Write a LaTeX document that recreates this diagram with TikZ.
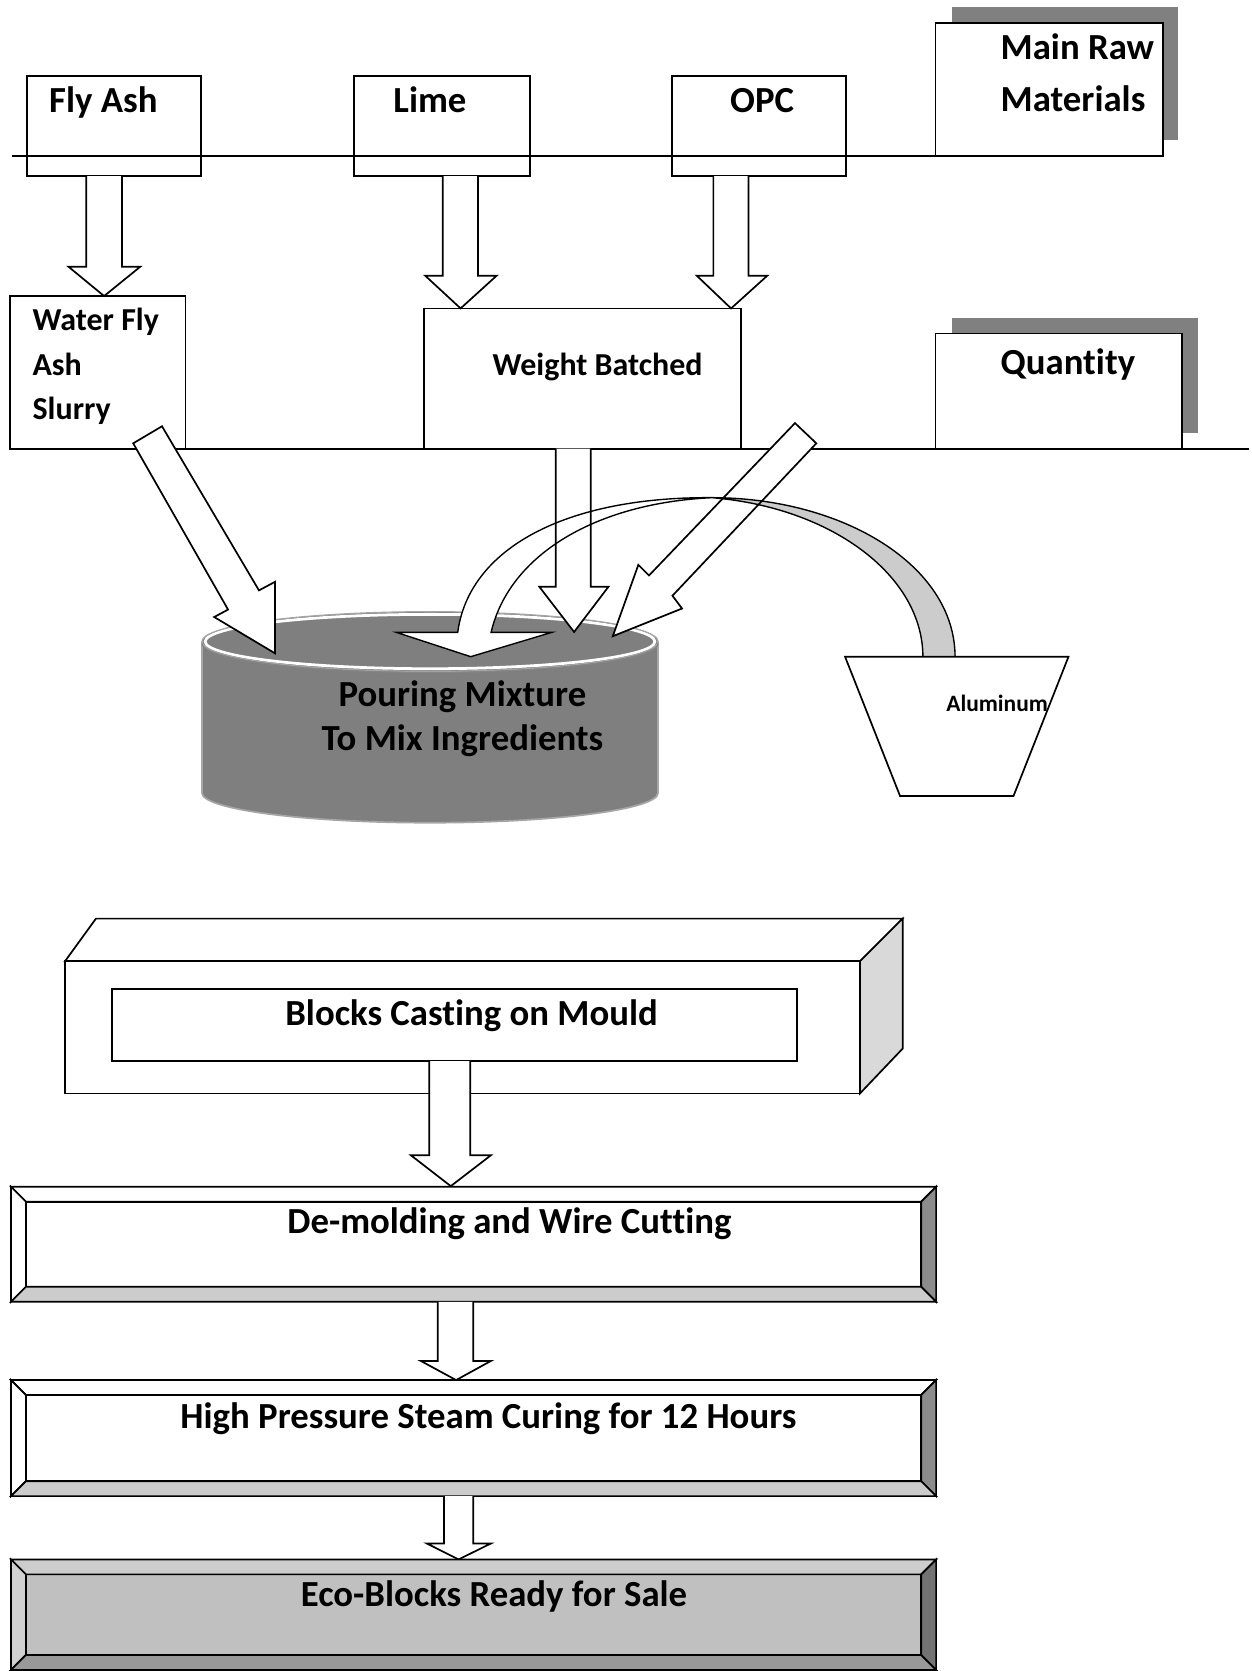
\documentclass[tikz,border=0pt]{standalone}
\usepackage{fontspec}
\setmainfont{Carlito}[Ligatures=NoCommon]
\definecolor{shadowgray}{HTML}{808080}
\definecolor{cylfill}{HTML}{7F7F7F}
\definecolor{cylline}{HTML}{A6A6A6}
\definecolor{curvegray}{HTML}{CCCCCC}
\definecolor{boxside}{HTML}{D9D9D9}
\definecolor{bevR}{HTML}{8C8C8C}
\definecolor{bevB}{HTML}{CCCCCC}
\definecolor{ecoF}{HTML}{C0C0C0}
\definecolor{ecoT}{HTML}{CDCDCD}
\definecolor{ecoL}{HTML}{D0D0D0}
\definecolor{ecoR}{HTML}{737373}
\definecolor{ecoB}{HTML}{999999}
\newcommand{\blkarrow}[8]{%
  \filldraw[ln, fill=white] (#1,#3) -- (#1,#4) -- (#5,#4) -- (#7,#8) -- (#6,#4) -- (#2,#4) -- (#2,#3);}
\newcommand{\bevbox}[9]{%
  \filldraw[ln, fill=#5] (#1+14,#2+14) rectangle (#3-14,#4-14);
  \filldraw[ln, fill=#6] (#1,#2) -- (#3,#2) -- (#3-14,#2+14) -- (#1+14,#2+14) -- cycle;
  \filldraw[ln, fill=#7] (#1,#2) -- (#1+14,#2+14) -- (#1+14,#4-14) -- (#1,#4) -- cycle;
  \filldraw[ln, fill=#8] (#3,#2) -- (#3,#4) -- (#3-14,#4-14) -- (#3-14,#2+14) -- cycle;
  \filldraw[ln, fill=#9] (#1,#4) -- (#3,#4) -- (#3-14,#4-14) -- (#1+14,#4-14) -- cycle;}
\def\pA{(521.5,421) -- (521.5,550.5) -- (506,550.5) -- (538.7,593) -- (571,550.5) -- (554.3,550.5) -- (554.3,421)}
\def\pB{(125,416) -- (152,400) -- (243,554) -- (258,546) -- (258,613) -- (201,579) -- (214,572) -- cycle}
\def\pC{(746,397) -- (766,416) -- (631,559) -- (640,571) -- (575,597) -- (599,530) -- (609,540) -- cycle}
\def\pW{(429.5,593.4) .. controls (440,515) and (530,466) .. (668,467) .. controls (560,472) and (478,520) .. (460.8,593.4) -- (517.7,593.4) -- (441.7,616.2) -- (372,593.4) -- cycle}
\def\pG{(668,467) .. controls (790,467) and (896,530) .. (896.2,616.3) -- (866,616.3) .. controls (866,540) and (780,476) .. (668,467) -- cycle}
\begin{document}
\begin{tikzpicture}[x=1pt,y=-1pt,line join=miter,
  ln/.style={line width=1.6pt, draw=black},
  thin ln/.style={line width=1.3pt, draw=black},
  big/.style={font=\fontsize{34.5}{40}\selectfont\bfseries, inner sep=0pt},
  mid/.style={font=\fontsize{30}{34}\selectfont\bfseries, inner sep=0pt},
  small/.style={font=\fontsize{22}{25}\selectfont\bfseries, inner sep=0pt}]
\useasboundingbox (0,0) rectangle (1174,1568);
\fill[white] (0,0) rectangle (1174,1568);

% ---------- top: raw materials ----------
\fill[shadowgray] (893.3,6.3) rectangle (1105.5,131.4);
\fill[shadowgray] (893.3,298.6) rectangle (1123.8,406.2);
\filldraw[ln, fill=white] (877.7,21.3) rectangle (1091.4,146.4);
\filldraw[ln, fill=white] (877.7,313) rectangle (1109,421);
\draw[ln] (11,146.4) -- (877.7,146.4);
\draw[ln] (9.7,421) -- (1172,421);
\draw[ln] (25.3,71.3) rectangle (188.7,165.2);
\draw[ln] (332,71.3) rectangle (497.6,165.2);
\draw[ln] (630.4,71.3) rectangle (793.6,165.2);
\draw[ln] (9.7,277.8) rectangle (174,421);
\draw[ln] (398,289.4) rectangle (695,421);

\node[big, anchor=base west] (flyash) at (46,105.7) {Fly Ash};
\node[big, anchor=base west] (lime) at (369,105.7) {Lime};
\node[big, anchor=base west] (opc) at (685,105.7) {OPC};
\node[big, anchor=base west] (raw1) at (938.8,56.3) {Main Raw};
\node[big, anchor=base west] (raw2) at (938.8,104.8) {Materials};
\node[big, anchor=base west] (qty) at (938.8,351.6) {Quantity};
\node[mid, anchor=base west] (wfa1) at (30.4,310) {Water Fly};
\node[mid, anchor=base west] (wfa2) at (30.4,352) {Ash};
\node[mid, anchor=base west] (wfa3) at (30.4,394) {Slurry};
\node[mid, anchor=base west] (wb) at (462,352) {Weight Batched};

\blkarrow{81}{114.5}{165.2}{250.3}{64.3}{131.6}{97.7}{277.8}
\blkarrow{415.5}{448.6}{165.2}{258.7}{399}{466}{432.2}{289.4}
\blkarrow{669.4}{702.4}{165.2}{258.7}{653.8}{720}{686}{289.4}

% ---------- mixing cylinder ----------
\fill[cylfill] (189.5,602) -- (189.5,744) arc[start angle=180, end angle=0, x radius=214, y radius=28] -- (617.5,602) -- cycle;
\draw[cylline, line width=1.6pt] (189.5,602) -- (189.5,744) arc[start angle=180, end angle=0, x radius=214, y radius=28] -- (617.5,602);
\fill[cylfill] (403.5,602) ellipse[x radius=214, y radius=28];
\draw[white, line width=2.6pt] (403.5,602) ellipse[x radius=211, y radius=25.5];
\draw[cylline, line width=1.2pt] (403.5,602) ellipse[x radius=214, y radius=28];
\draw[cylline!80!black, line width=1pt] (189.5,604) arc[start angle=180, end angle=0, x radius=214, y radius=27];
\node[big, anchor=base] (pour1) at (434,663.2) {Pouring Mixture};
\node[big, anchor=base] (pour2) at (434,703.8) {To Mix Ingredients};

% ---------- feed arrows into mixer ----------
\fill[white] \pA;
\fill[white] \pB;
\fill[white] \pC;
\fill[white] \pW;
\fill[curvegray] \pG;
\draw[ln] \pA;
\draw[ln] \pB;
\draw[ln] \pC;
\draw[thin ln] \pW;
\draw[thin ln] \pG;

% ---------- aluminum bucket ----------
\filldraw[ln, fill=white] (793,616.3) -- (1002.6,616.3) -- (951,747) -- (844.6,747) -- cycle;
\node[small, anchor=base west] (alu) at (887.8,667.9) {Aluminum};

% ---------- casting ----------
\filldraw[ln, fill=white] (61,902) -- (90,862) -- (847,862) -- (807,902) -- cycle;
\filldraw[ln, fill=boxside] (807,902) -- (847,862) -- (847,984) -- (807,1026) -- cycle;
\filldraw[ln, fill=white] (61,902) rectangle (807,1026);
\draw[ln] (105,928) rectangle (748,995.7);
\node[big, anchor=base] (cast) at (442.5,962) {Blocks Casting on Mould};
\blkarrow{402.7}{441.2}{995.7}{1084}{385.5}{460.7}{423}{1113}

% ---------- process steps ----------
\bevbox{10.3}{1113.6}{878.4}{1221.5}{white}{white}{white}{bevR}{bevB}
\node[big, anchor=base] (demold) at (478,1157.4) {De-molding and Wire Cutting};
\blkarrow{410.8}{444}{1221.5}{1277}{394.8}{460.7}{428}{1295}
\bevbox{10.3}{1295}{878.4}{1403.9}{white}{white}{white}{bevR}{bevB}
\node[big, anchor=base] (steam) at (458.4,1340.4) {High Pressure Steam Curing for 12 Hours};
\blkarrow{416.6}{444}{1403.9}{1448.3}{400.5}{460.7}{430.3}{1463.3}
\bevbox{10.3}{1463.3}{878.4}{1567}{ecoF}{ecoT}{ecoL}{ecoR}{ecoB}
\node[big, anchor=base] (eco) at (463.5,1507) {Eco-Blocks Ready for Sale};
\end{tikzpicture}
\end{document}
